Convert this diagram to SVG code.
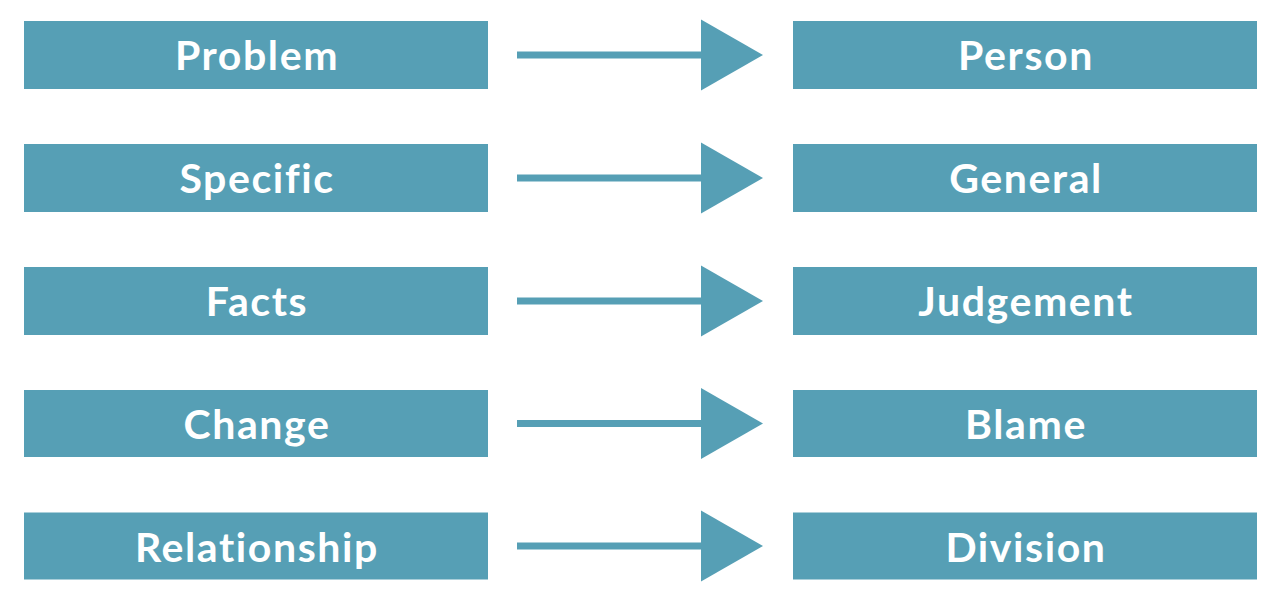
<svg xmlns="http://www.w3.org/2000/svg" width="1280" height="602" viewBox="0 0 1280 602">
<style>
.box{fill:#569fb5}
.lbl{font-family:Lato,"Open Sans","Liberation Sans",sans-serif;font-weight:700;font-size:41px;letter-spacing:1.6px;fill:#ffffff;text-anchor:middle}
.ln{stroke:#569fb5;stroke-width:7;fill:none}
.hd{fill:#569fb5}
</style>
<rect width="1280" height="602" fill="#ffffff"/>
<g id="n-problem"><rect class="box" x="24" y="21" width="464" height="68"/><text class="lbl" x="257" y="70">Problem</text></g>
<g id="n-person"><rect class="box" x="793" y="21" width="464" height="68"/><text class="lbl" x="1026" y="70">Person</text></g>
<g id="n-specific"><rect class="box" x="24" y="144" width="464" height="68"/><text class="lbl" x="257" y="193">Specific</text></g>
<g id="n-general"><rect class="box" x="793" y="144" width="464" height="68"/><text class="lbl" x="1026" y="193">General</text></g>
<g id="n-facts"><rect class="box" x="24" y="267" width="464" height="68"/><text class="lbl" x="257" y="316">Facts</text></g>
<g id="n-judgement"><rect class="box" x="793" y="267" width="464" height="68"/><text class="lbl" x="1026" y="316">Judgement</text></g>
<g id="n-change"><rect class="box" x="24" y="390" width="464" height="67"/><text class="lbl" x="257" y="439">Change</text></g>
<g id="n-blame"><rect class="box" x="793" y="390" width="464" height="67"/><text class="lbl" x="1026" y="439">Blame</text></g>
<g id="n-relationship"><rect class="box" x="24" y="512.5" width="464" height="67"/><text class="lbl" x="257" y="561.5">Relationship</text></g>
<g id="n-division"><rect class="box" x="793" y="512.5" width="464" height="67"/><text class="lbl" x="1026" y="561.5">Division</text></g>
<g id="connectors">
<line class="ln" x1="517" y1="55" x2="703" y2="55"/><polygon class="hd" points="701,19.5 763,55 701,90.5"/>
<line class="ln" x1="517" y1="178" x2="703" y2="178"/><polygon class="hd" points="701,142.5 763,178 701,213.5"/>
<line class="ln" x1="517" y1="301" x2="703" y2="301"/><polygon class="hd" points="701,265.5 763,301 701,336.5"/>
<line class="ln" x1="517" y1="423.5" x2="703" y2="423.5"/><polygon class="hd" points="701,388 763,423.5 701,459"/>
<line class="ln" x1="517" y1="546" x2="703" y2="546"/><polygon class="hd" points="701,510.5 763,546 701,581.5"/>
</g>
</svg>
